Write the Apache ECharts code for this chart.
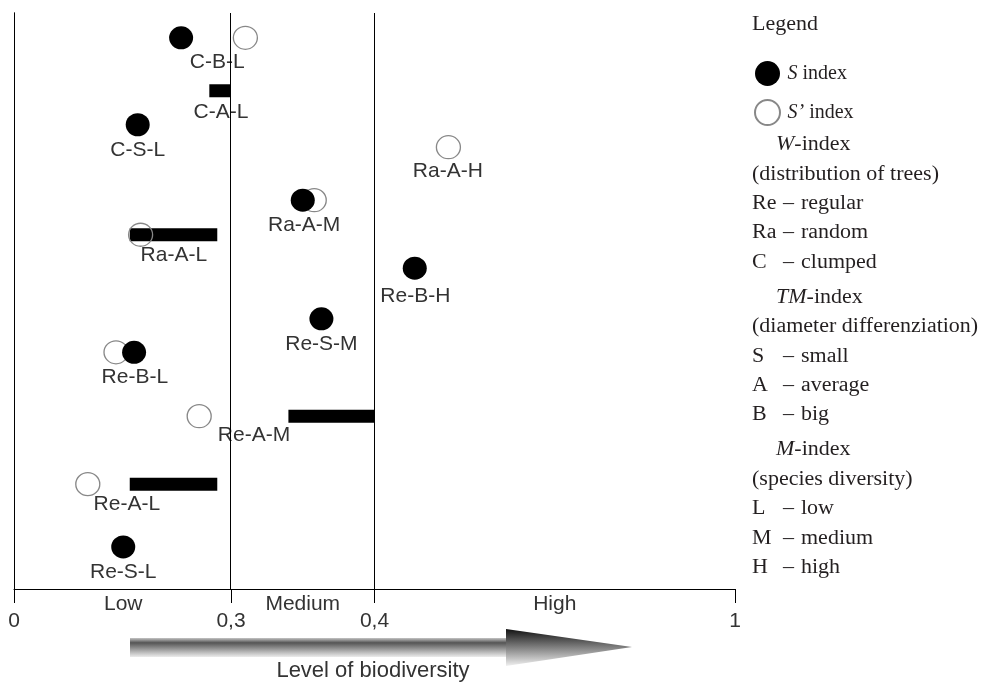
<!DOCTYPE html>
<html>
<head>
    <meta charset="utf-8">
    <title>Level of biodiversity</title>
    <script src="https://cdn.jsdelivr.net/npm/echarts@6/dist/echarts.min.js"></script>
</head>
<body style="margin:0">
    <div id="main" style="width: 985px;height:684px;"></div>
    <script type="text/javascript">

    // stands (W-TM-M code), top to bottom
    var names  = ['C-B-L', 'C-A-L', 'C-S-L', 'Ra-A-H', 'Ra-A-M', 'Ra-A-L', 'Re-B-H', 'Re-S-M', 'Re-B-L', 'Re-A-M', 'Re-A-L', 'Re-S-L'];
    // vertical place of each stand (0 = bottom, 100 = top)
    var rowY   = [95.7, 86.5, 80.6, 76.7, 67.5, 61.5, 55.7, 46.9, 41.1, 30.0, 18.2, 7.3];
    var labelY = [91.5, 82.8, 76.2, 72.6, 63.2, 58.0, 50.9, 42.5, 36.8, 26.7, 14.8, 3.0];
    // index values
    var sIndex = [0.231, null, 0.171, null, 0.350, null, 0.467, 0.363, 0.166, null, null, 0.151];
    var sPrime = [0.310, null, null, 0.523, 0.358, 0.175, null, null, 0.141, 0.256, 0.102, null];
    var wFrom  = [null, 0.270, null, null, null, 0.160, null, null, null, 0.340, 0.160, null];
    var wTo    = [null, 0.300, null, null, null, 0.281, null, null, null, 0.400, 0.281, null];
    var labelX = [0.281, 0.286, 0.171, 0.522, 0.351, 0.221, 0.468, 0.363, 0.167, 0.316, 0.156, 0.151];

    // axis
    var tickValues = [0, 0.3, 0.4, 1];
    var tickLabels = ['0', '0,3', '0,4', '1'];
    var zoneValues = [0.151, 0.35, 0.7];
    var zoneLabels = ['Low', 'Medium', 'High'];
    // the axis is drawn broken: each part has its own share of the width
    var scaleStops = [0, 0.301, 0.5, 1];

    function pos(v) {
        for (var i = 1; i < tickValues.length; i++) {
            if (v <= tickValues[i]) {
                var t = (v - tickValues[i - 1]) / (tickValues[i] - tickValues[i - 1]);
                return scaleStops[i - 1] + t * (scaleStops[i] - scaleStops[i - 1]);
            }
        }
        return 1;
    }

    var filled = [], open = [], bars = [], labels = [];
    for (var i = 0; i < names.length; i++) {
        if (sIndex[i] != null) filled.push([pos(sIndex[i]), rowY[i]]);
        if (sPrime[i] != null) open.push([pos(sPrime[i]), rowY[i]]);
        if (wFrom[i] != null) bars.push([pos(wFrom[i]), pos(wTo[i]), rowY[i]]);
        labels.push([pos(labelX[i]), labelY[i], names[i]]);
    }
    var tickPos = tickValues.map(pos);
    var zonePos = zoneValues.map(pos);

    function labelFor(list, texts) {
        return function (value) {
            for (var k = 0; k < list.length; k++) {
                if (Math.abs(list[k] - value) < 1e-6) return texts[k];
            }
            return '';
        };
    }

    // legend text on the right
    var serif = 'Liberation Serif';
    var keyLines = [
        {head: 'W'}, {note: '(distribution of trees)'},
        {code: 'Re', word: 'regular'}, {code: 'Ra', word: 'random'}, {code: 'C', word: 'clumped'},
        {head: 'TM'}, {note: '(diameter differenziation)'},
        {code: 'S', word: 'small'}, {code: 'A', word: 'average'}, {code: 'B', word: 'big'},
        {head: 'M'}, {note: '(species diversity)'},
        {code: 'L', word: 'low'}, {code: 'M', word: 'medium'}, {code: 'H', word: 'high'}
    ];
    var keyStyle = {fontFamily: serif, fontSize: 20, fill: '#231f20', verticalAlign: 'middle'};
    function keyText(x, y, text, rich) {
        return {
            type: 'text', x: x, y: y, scaleX: 1.1,
            style: Object.assign({text: text, rich: rich}, keyStyle)
        };
    }
    var italic = {i: {fontFamily: serif, fontSize: 20, fontStyle: 'italic', fill: '#231f20'}};
    var graphics = [keyText(752, 25, 'Legend')];
    var y = 110;
    keyLines.forEach(function (ln) {
        y += ln.head ? 35 : 29.4;
        if (ln.head) {
            graphics.push(keyText(776, y, '{i|' + ln.head + '}-index', italic));
        } else if (ln.note) {
            graphics.push(keyText(752, y, ln.note));
        } else {
            graphics.push(keyText(752, y, ln.code));
            graphics.push(keyText(783, y, '\u2013'));
            graphics.push(keyText(801, y, ln.word));
        }
    });

    // arrow under the axis
    graphics.push({
        type: 'rect', shape: {x: 130, y: 638, width: 378, height: 19},
        style: {fill: new echarts.graphic.LinearGradient(0, 0, 0, 1, [
            {offset: 0, color: '#c4c4c4'}, {offset: 0.25, color: '#555'},
            {offset: 1, color: '#ececec'}])}
    });
    graphics.push({
        type: 'polygon', shape: {points: [[506, 629], [632, 647], [506, 666]]},
        style: {fill: new echarts.graphic.LinearGradient(0, 0, 0, 1, [
            {offset: 0, color: '#111'}, {offset: 1, color: '#f0f0f0'}])}
    });
    graphics.push({
        type: 'text', x: 373, y: 671,
        style: {text: 'Level of biodiversity', fontFamily: 'Liberation Sans', fontSize: 22,
                fill: '#333', align: 'center', verticalAlign: 'middle'}
    });

    var myChart = echarts.init(document.getElementById('main'));

    var option = {
        animation: false,
        backgroundColor: '#fff',
        grid: {left: 14, right: 250, top: 13, bottom: 95},
        legend: {
            orient: 'vertical', left: 749, top: 56,
            itemWidth: 26, itemHeight: 25, itemGap: 13,
            data: ['S index', 'S\u2019 index'],
            formatter: function (name) {
                return name === 'S index' ? '{i|S} index' : '{i|S\u2019} index';
            },
            textStyle: {
                fontFamily: serif, fontSize: 20, color: '#231f20', padding: [0, 0, 0, 2],
                rich: {i: {fontFamily: serif, fontSize: 20, fontStyle: 'italic', color: '#231f20'}}
            }
        },
        xAxis: [{
            type: 'value', min: 0, max: 1, position: 'bottom',
            axisLine: {lineStyle: {color: '#000', width: 1}},
            axisTick: {show: true, customValues: tickPos, length: 14, lineStyle: {color: '#000'}},
            axisLabel: {customValues: tickPos, formatter: labelFor(tickPos, tickLabels),
                        margin: 22, fontFamily: 'Liberation Sans', fontSize: 21, color: '#333'},
            splitLine: {show: false}
        }, {
            type: 'value', min: 0, max: 1, position: 'bottom',
            axisLine: {show: false}, axisTick: {show: false},
            axisLabel: {customValues: zonePos, formatter: labelFor(zonePos, zoneLabels),
                        margin: 5, fontFamily: 'Liberation Sans', fontSize: 21, color: '#333'},
            splitLine: {show: false}
        }],
        yAxis: [{
            type: 'value', min: 0, max: 100, position: 'left',
            axisLine: {show: true, lineStyle: {color: '#000'}},
            axisTick: {show: false}, axisLabel: {show: false}, splitLine: {show: false}
        }, {
            type: 'value', min: 0, max: 100, position: 'right',
            axisLine: {show: true, lineStyle: {color: '#000'}},
            axisTick: {show: false}, axisLabel: {show: false}, splitLine: {show: false}
        }],
        graphic: graphics,
        series: [{
            name: 'W',
            type: 'custom',
            encode: {x: [0, 1], y: 2},
            renderItem: function (params, api) {
                var a = api.coord([api.value(0), api.value(2)]);
                var b = api.coord([api.value(1), api.value(2)]);
                return {
                    type: 'rect',
                    shape: {x: a[0], y: a[1] - 6.5, width: b[0] - a[0], height: 13},
                    style: {fill: '#000'}
                };
            },
            data: bars,
            markLine: {
                silent: true, symbol: 'none', label: {show: false},
                lineStyle: {color: '#000', width: 1, type: 'solid'},
                data: [{xAxis: pos(0.3)}, {xAxis: pos(0.4)}]
            }
        }, {
            name: 'S\u2019 index',
            type: 'scatter',
            symbol: 'circle', symbolSize: [24, 23],
            itemStyle: {color: 'rgba(255,255,255,0)', borderColor: '#888', borderWidth: 1.3, opacity: 1},
            data: open
        }, {
            name: 'S index',
            type: 'scatter',
            symbol: 'circle', symbolSize: [24, 23],
            itemStyle: {color: '#000', opacity: 1},
            data: filled
        }, {
            name: 'labels',
            type: 'scatter',
            symbolSize: 1,
            itemStyle: {color: 'rgba(0,0,0,0)', opacity: 1},
            label: {
                show: true, position: 'inside',
                formatter: function (p) { return p.value[2]; },
                fontFamily: 'Liberation Sans', fontSize: 21, color: '#333'
            },
            data: labels
        }]
    };

    myChart.setOption(option);
    </script>
</body>
</html>
